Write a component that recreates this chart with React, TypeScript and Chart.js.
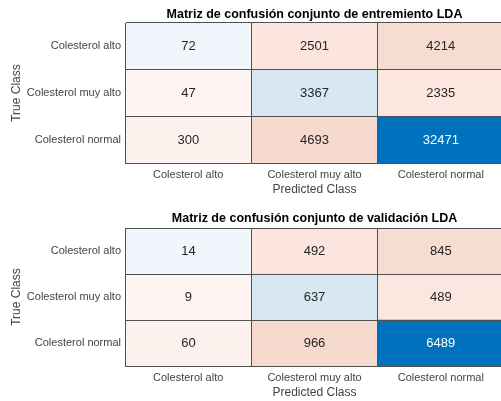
import React, { useEffect, useRef } from 'react';
import { Chart, registerables } from 'chart.js';

Chart.register(...registerables);

// ---- data ----
const classes = ['Colesterol alto', 'Colesterol muy alto', 'Colesterol normal'];
const trainAlto = [72, 2501, 4214];
const trainMuyAlto = [47, 3367, 2335];
const trainNormal = [300, 4693, 32471];
const valAlto = [14, 492, 845];
const valMuyAlto = [9, 637, 489];
const valNormal = [60, 966, 6489];
const trainTitle = 'Matriz de confusión conjunto de entremiento LDA';
const valTitle = 'Matriz de confusión conjunto de validación LDA';
const xTitle = 'Predicted Class';
const yTitle = 'True Class';

// ---- styles ----
const cellColors = [
  ['rgb(240,246,251)', 'rgb(251,229,222)', 'rgb(247,221,209)'],
  ['rgb(254,244,241)', 'rgb(216,232,243)', 'rgb(252,231,224)'],
  ['rgb(253,242,238)', 'rgb(246,218,205)', 'rgb(0,114,189)'],
];
const textColors = [
  ['#262626', '#262626', '#262626'],
  ['#262626', '#262626', '#262626'],
  ['#262626', '#262626', '#ffffff'],
];
const FONT = '"Liberation Sans", Arial, Helvetica, sans-serif';
const lineColor = '#505050';
const labelColor = '#444444';
const TICK_PAD = 5;

type Layout = {
  topH: number;
  titlePadTop: number;
  bottomH: number;
  xTitlePadBottom: number;
};

const cellTextPlugin = {
  id: 'cellText',
  afterDatasetsDraw(chart: any) {
    const ctx = chart.ctx;
    ctx.save();
    ctx.font = `13px ${FONT}`;
    ctx.textAlign = 'center';
    ctx.textBaseline = 'middle';
    chart.data.datasets.forEach((ds: any, j: number) => {
      const meta = chart.getDatasetMeta(j);
      meta.data.forEach((el: any, i: number) => {
        const cx = (el.x + el.base) / 2;
        const cy = el.y;
        ctx.fillStyle = textColors[i][j];
        ctx.fillText(String(ds.cellValues[i]), cx, cy + 0.5);
      });
    });
    ctx.restore();
  },
};

function Matrix({ rows, title, layout }: { rows: number[][]; title: string; layout: Layout }) {
  const ref = useRef<HTMLCanvasElement | null>(null);
  useEffect(() => {
    if (!ref.current) return;
    const datasets = [0, 1, 2].map((j) => ({
      label: classes[j],
      data: rows.map(() => [j, j + 1]),
      cellValues: rows.map((r) => r[j]),
      backgroundColor: rows.map((_, i) => cellColors[i][j]),
      borderWidth: 0,
      barPercentage: 1,
      categoryPercentage: 1,
      grouped: false,
    }));
    const chart = new Chart(ref.current, {
      type: 'bar',
      data: { labels: classes, datasets: datasets as any },
      plugins: [cellTextPlugin],
      options: {
        indexAxis: 'y',
        responsive: false,
        animation: false,
        devicePixelRatio: 1,
        layout: { padding: 0 },
        plugins: {
          legend: { display: false },
          tooltip: { enabled: false },
          title: { display: false },
        },
        scales: {
          x: {
            type: 'linear',
            position: 'bottom',
            min: 0,
            max: 3,
            afterBuildTicks: (s: any) => {
              s.ticks = [0, 0.5, 1, 1.5, 2, 2.5, 3].map((v) => ({ value: v }));
            },
            ticks: {
              autoSkip: false,
              maxRotation: 0,
              padding: TICK_PAD,
              color: labelColor,
              font: { family: FONT, size: 11 },
              callback: (v: any) => (Number.isInteger(v) ? '' : classes[Math.floor(v)]),
            },
            grid: {
              z: 1,
              drawTicks: false,
              lineWidth: 1,
              color: (c: any) =>
                c.tick && Number.isInteger(c.tick.value) ? lineColor : 'rgba(0,0,0,0)',
            },
            border: { display: true, color: lineColor, z: 1 },
            title: {
              display: true,
              text: xTitle,
              color: labelColor,
              font: { family: FONT, size: 12 },
              padding: { top: 0, bottom: layout.xTitlePadBottom },
            },
            afterFit: (s: any) => {
              s.height = layout.bottomH;
            },
          },
          t: {
            type: 'linear',
            position: 'top',
            min: 0,
            max: 3,
            grid: { display: false, drawTicks: false },
            border: { display: false },
            ticks: { display: false },
            title: {
              display: true,
              text: title,
              color: '#000000',
              font: { family: FONT, size: 12.5, weight: 'bold' },
              padding: { top: layout.titlePadTop, bottom: 0 },
            },
            afterFit: (s: any) => {
              s.height = layout.topH;
            },
          },
          y: {
            type: 'category',
            offset: true,
            grid: { z: 1, offset: true, drawTicks: false, color: lineColor, lineWidth: 1 },
            border: { display: true, color: lineColor, z: 1 },
            ticks: {
              padding: 4,
              color: labelColor,
              font: { family: FONT, size: 11 },
            },
            title: {
              display: true,
              text: yTitle,
              color: labelColor,
              font: { family: FONT, size: 12 },
              padding: { top: 9, bottom: 0 },
            },
            afterFit: (s: any) => {
              s.width = 125;
            },
          },
        },
      } as any,
    });
    return () => chart.destroy();
  }, [rows, title, layout]);
  return (
    <div style={{ width: 501, height: 200, overflow: 'hidden', position: 'relative' }}>
      <canvas ref={ref} width={504 + TICK_PAD} height={200} style={{ display: 'block' }} />
    </div>
  );
}

const trainRows = [trainAlto, trainMuyAlto, trainNormal];
const valRows = [valAlto, valMuyAlto, valNormal];
const trainLayout: Layout = { topH: 23, titlePadTop: 6.8, bottomH: 37, xTitlePadBottom: 2.8 };
const valLayout: Layout = { topH: 28, titlePadTop: 10.8, bottomH: 34, xTitlePadBottom: 0 };

export default function App() {
  useEffect(() => {
    document.body.style.margin = '0';
    document.body.style.background = '#ffffff';
  }, []);
  return (
    <div style={{ width: 501, height: 401, overflow: 'hidden', background: '#fff' }}>
      <Matrix rows={trainRows} title={trainTitle} layout={trainLayout} />
      <Matrix rows={valRows} title={valTitle} layout={valLayout} />
    </div>
  );
}
